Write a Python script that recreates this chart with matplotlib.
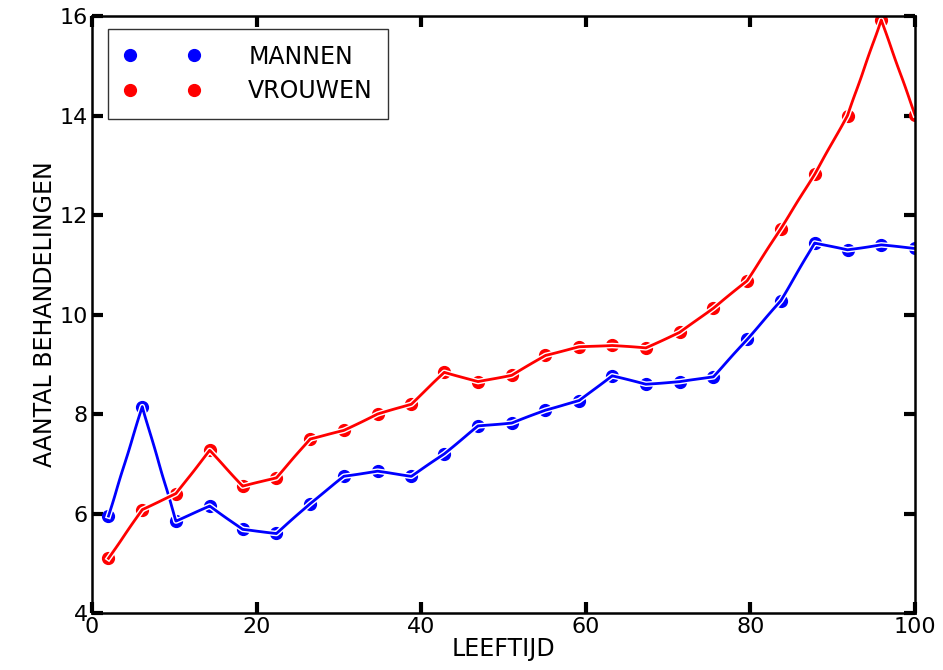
import matplotlib
matplotlib.use("Agg")
import matplotlib.pyplot as plt
from matplotlib import patheffects

leeftijd = [2.0, 6.1, 10.2, 14.3, 18.3, 22.4, 26.5, 30.6, 34.7, 38.8, 42.8, 46.9,
            51.0, 55.1, 59.2, 63.2, 67.3, 71.4, 75.5, 79.6, 83.7, 87.8, 91.8, 95.9, 100.0]
mannen = [5.95, 8.15, 5.85, 6.15, 5.68, 5.60, 6.20, 6.75, 6.85, 6.75, 7.20, 7.76,
          7.82, 8.08, 8.27, 8.77, 8.60, 8.65, 8.75, 9.50, 10.28, 11.44, 11.30, 11.40, 11.33]
vrouwen = [5.10, 6.08, 6.40, 7.27, 6.55, 6.72, 7.50, 7.67, 8.00, 8.20, 8.84, 8.65,
           8.78, 9.18, 9.35, 9.38, 9.33, 9.64, 10.13, 10.68, 11.73, 12.82, 14.00, 15.92, 14.02]
xticks = [0, 20, 40, 60, 80, 100]
yticks = [4, 6, 8, 10, 12, 14, 16]

plt.rcParams['font.family'] = ['DejaVu Sans']

fig = plt.figure(figsize=(9.43, 6.7), dpi=100)
ax = fig.add_axes([0.0976, 0.085, 0.8727, 0.891])

stroke = [patheffects.withStroke(linewidth=4, foreground='w')]
ax.plot(leeftijd, mannen, 'o', color='b', markersize=8.5, label='MANNEN')
ax.plot(leeftijd, vrouwen, 'o', color='r', markersize=8.5, label='VROUWEN')
for ys, c in ((mannen, 'b'), (vrouwen, 'r')):
    ln, = ax.plot(leeftijd, ys, '-', color=c, linewidth=2, path_effects=stroke)
    ln.set_sketch_params(0.12, 60, 2)

ax.set_xlim(0, 100)
ax.set_ylim(4, 16)
ax.set_xticks(xticks)
ax.set_yticks(yticks)
ax.tick_params(direction='in', top=True, right=True, length=8, width=3,
               labelsize=16, pad=3)
for s in ax.spines.values():
    s.set_linewidth(1.8)
ax.set_xlabel('LEEFTIJD', fontsize=17, labelpad=0)
ax.set_ylabel('AANTAL BEHANDELINGEN', fontsize=17, labelpad=2)

leg = ax.legend(loc='upper left', numpoints=2, fontsize=17, frameon=True,
                fancybox=False, borderpad=0.65, handlelength=3.3, handletextpad=2.0,
                labelspacing=0.45, borderaxespad=0, bbox_to_anchor=(0.019, 0.978))
leg.get_frame().set_edgecolor('black')
leg.get_frame().set_linewidth(1.0)

fig.savefig('out.png', dpi=100)
